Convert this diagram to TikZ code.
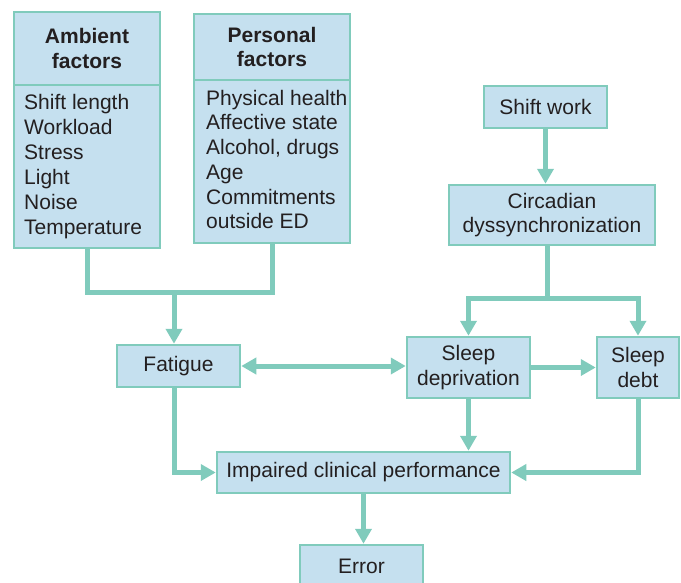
\documentclass[tikz,border=0pt]{standalone}
\usepackage{fontspec}
\setmainfont{Liberation Sans}
\usetikzlibrary{arrows.meta}
\definecolor{boxfill}{RGB}{197,224,239}
\definecolor{linkteal}{RGB}{128,203,188}
\definecolor{ink}{RGB}{35,31,32}
\begin{document}
\begin{tikzpicture}[x=1pt,y=-1pt,
  >={Triangle[width=16pt,length=15pt]},
  box/.style={draw=linkteal, line width=2.5pt, fill=boxfill, text=ink, inner sep=0pt,
    align=center, font=\fontsize{21}{24.8}\selectfont},
  headbox/.style={box, font=\fontsize{21}{24.8}\selectfont\bfseries},
  listtext/.style={text=ink, inner sep=0pt, align=left, font=\fontsize{21}{24.7}\selectfont},
  conn/.style={draw=linkteal, line width=5pt},
  arr/.style={conn, ->},
  biarr/.style={conn, <->}]
\useasboundingbox (0,0) rectangle (681,582);
% factor boxes
\node[headbox, minimum width=146pt, minimum height=73pt] (amb) at (87,48.5) {Ambient\\factors};
\node[box, minimum width=146pt, minimum height=163pt] (ambl) at (87,166.5) {};
\node[listtext, anchor=west, font=\fontsize{21}{25}\selectfont] (ambt) at (24,166.5)
  {Shift length\\Workload\\Stress\\Light\\Noise\\Temperature};
\node[headbox, minimum width=156pt, minimum height=66pt] (per) at (272,47) {Personal\\factors};
\node[box, minimum width=156pt, minimum height=163pt] (perl) at (272,161.5) {};
\node[listtext, anchor=west] (pert) at (206,159.5)
  {Physical health\\Affective state\\Alcohol, drugs\\Age\\Commitments\\outside ED};
% right column
\node[box, minimum width=123pt, minimum height=42pt] (shift) at (545.5,107) {Shift work};
\node[box, minimum width=206pt, minimum height=60pt] (circ) at (552,215) {Circadian\\dyssynchronization};
% middle row
\node[box, minimum width=123pt, minimum height=42pt] (fat) at (178.5,366) {Fatigue};
\node[box, minimum width=123pt, minimum height=61pt] (sdep) at (468.5,367.5) {Sleep\\deprivation};
\node[box, minimum width=82pt, minimum height=61pt] (sdebt) at (638,367.5) {Sleep\\debt};
% bottom
\node[box, minimum width=293pt, minimum height=41pt] (imp) at (363.5,472.5) {Impaired clinical performance};
\node[box, minimum width=123pt, minimum height=42pt] (err) at (361.5,566) {Error};
% junctions
\coordinate (j1) at (174,292);
\coordinate (j2) at (547,298);
% connectors
\draw[conn] (ambl.south) |- (j1) -| (perl.south);
\draw[arr] (j1) -- (j1 |- fat.north);
\draw[arr] (shift.south) -- (shift.south |- circ.north);
\draw[conn] (j2 |- circ.south) -- (j2);
\draw[arr] (j2) -| (sdep.north);
\draw[arr] (j2) -| (sdebt.north);
\draw[biarr] (fat.east) -- (fat.east -| sdep.west);
\draw[arr] (sdep.east) -- (sdebt.west);
\draw[arr] (sdep.south) -- (sdep.south |- imp.north);
\draw[arr] (sdebt.south) |- (imp.east);
\draw[arr] (j1 |- fat.south) |- (imp.west);
\draw[arr] (imp.south) -- (imp.south |- err.north);
\end{tikzpicture}
\end{document}
